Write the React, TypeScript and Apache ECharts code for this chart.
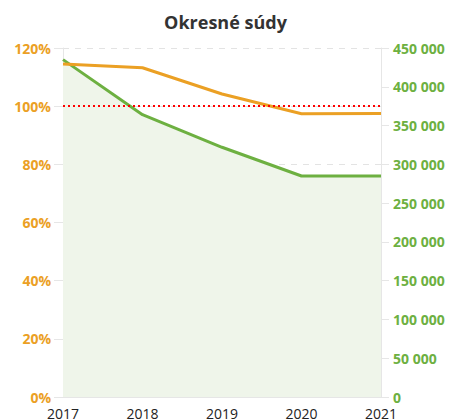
import React, { useEffect, useRef } from "react";
import * as echarts from "echarts";

const years = ["2017", "2018", "2019", "2020", "2021"];
const pctValues = [114.5, 113.2, 104.2, 97.4, 97.5];
const countValues = [435000, 364000, 322000, 285000, 285000];
const referenceLine = 100;
const leftTicks = { min: 0, max: 120, interval: 20 };
const rightTicks = { min: 0, max: 450000, interval: 50000 };

const ORANGE = "#eba024";
const GREEN = "#6db041";
const FONT = "'Open Sans', sans-serif";

function fmtThousands(v: number): string {
  return String(v).replace(/\B(?=(\d{3})+(?!\d))/g, " ");
}

export default function App() {
  const ref = useRef<HTMLDivElement>(null);
  useEffect(() => {
    if (!ref.current) return;
    const chart = echarts.init(ref.current, undefined, { renderer: "svg" });
    chart.setOption({
      animation: false,
      textStyle: { fontFamily: FONT },
      title: {
        text: "Okresné súdy",
        left: "center",
        top: 8,
        textStyle: { fontFamily: FONT, fontSize: 18, fontWeight: "bold", color: "#333" },
      },
      grid: { left: 63, right: 70, top: 48, bottom: 22 },
      xAxis: {
        type: "category",
        data: years,
        boundaryGap: false,
        axisLine: { lineStyle: { color: "#e6e6e6" } },
        axisTick: { show: false },
        axisLabel: { color: "#222", fontSize: 14, margin: 9, fontFamily: FONT },
      },
      yAxis: [
        {
          type: "value",
          min: leftTicks.min,
          max: leftTicks.max,
          interval: leftTicks.interval,
          axisLine: { show: true, lineStyle: { color: "#e6e6e6" } },
          axisTick: { show: true, length: 9, lineStyle: { color: "#e6e6e6" } },
          axisLabel: {
            color: ORANGE,
            fontSize: 14,
            fontWeight: "bold",
            margin: 12,
            fontFamily: FONT,
            formatter: (v: number) => v + "%",
          },
          splitLine: { show: true, lineStyle: { color: "#e3e3e3", type: [6, 6] } },
        },
        {
          type: "value",
          position: "right",
          min: rightTicks.min,
          max: rightTicks.max,
          interval: rightTicks.interval,
          axisLine: { show: true, lineStyle: { color: "#e6e6e6" } },
          axisTick: { show: true, length: 8, lineStyle: { color: "#e6e6e6" } },
          axisLabel: {
            color: GREEN,
            fontSize: 14,
            fontWeight: "bold",
            margin: 12,
            fontFamily: FONT,
            formatter: (v: number) => fmtThousands(v),
          },
          splitLine: { show: false },
        },
      ],
      series: [
        {
          type: "line",
          yAxisIndex: 1,
          data: countValues,
          symbol: "none",
          lineStyle: { color: GREEN, width: 3 },
          areaStyle: { color: "#eff5ea", opacity: 1 },
          z: 2,
        },
        {
          type: "line",
          yAxisIndex: 0,
          data: pctValues,
          symbol: "none",
          lineStyle: { color: ORANGE, width: 3 },
          z: 3,
          markLine: {
            silent: true,
            symbol: "none",
            label: { show: false },
            lineStyle: { color: "#ff0000", type: [2, 3], width: 2 },
            data: [{ yAxis: referenceLine }],
          },
        },
      ],
    });
    return () => chart.dispose();
  }, []);
  return <div ref={ref} style={{ width: 451, height: 420, position: "absolute", left: 0, top: 0 }} />;
}
